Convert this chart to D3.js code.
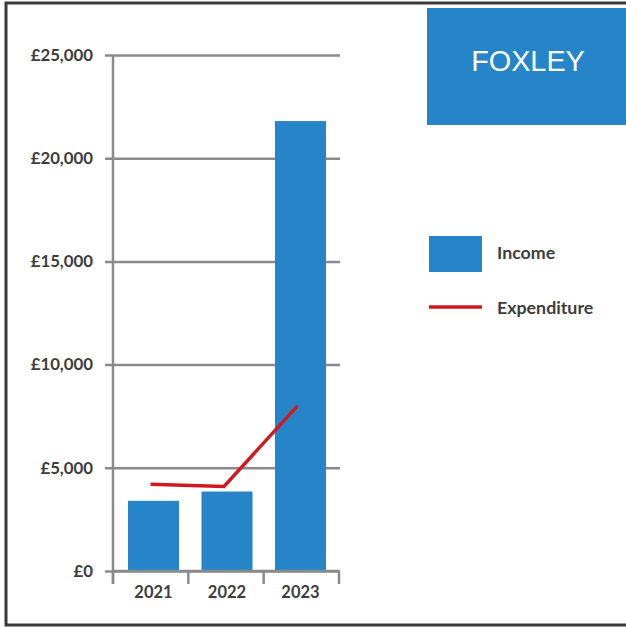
<!DOCTYPE html>
<html>
<head>
<meta charset="utf-8">
<script src="https://cdn.jsdelivr.net/npm/d3@7"></script>
<style>
  body { margin: 0; background: #fff; }
  svg { display: block; }
</style>
</head>
<body>
<svg id="chart"></svg>
<script>
// chart data
const years = ["2021", "2022", "2023"];
const income = [3400, 3850, 21800];
const expenditure = [4200, 4100, 8000];
const yTicks = [0, 5000, 10000, 15000, 20000, 25000];
const title = "FOXLEY";
const seriesNames = ["Income", "Expenditure"];

const width = 626;
const height = 627;
const blue = "#2585c8";
const red = "#d0191f";
const grey = "#8a8a8a";
const labelFont = "Lato, 'Open Sans', sans-serif";

const svg = d3.select("#chart")
    .attr("width", width)
    .attr("height", height);

// outer frame
svg.append("rect")
    .attr("x", 6).attr("y", 3)
    .attr("width", 640).attr("height", 622)
    .attr("fill", "none")
    .attr("stroke", "#3a3a3a")
    .attr("stroke-width", 3);

const x = d3.scaleBand()
    .domain(years)
    .range([116.75, 337.25])
    .paddingInner(0.306)
    .paddingOuter(0.153);

const y = d3.scaleLinear()
    .domain([0, 25000])
    .range([571, 55]);

const fmt = d => "£" + d3.format(",")(d);

// gridlines + y axis
const yAxis = svg.append("g")
    .attr("transform", "translate(113,0)")
    .call(d3.axisLeft(y).tickValues(yTicks).tickFormat(fmt).tickSize(8).tickPadding(12));
yAxis.select(".domain").remove();
yAxis.selectAll(".tick line")
    .attr("x2", 227)
    .attr("x1", -8)
    .attr("stroke", grey)
    .attr("stroke-width", 2.5);
yAxis.selectAll("text")
    .attr("font-family", labelFont)
    .attr("font-weight", "bold")
    .attr("font-size", 16.8)
    .attr("fill", "#3d3d3d");

svg.append("line")
    .attr("x1", 113).attr("x2", 113)
    .attr("y1", y(25000)).attr("y2", 584)
    .attr("stroke", grey).attr("stroke-width", 2.5);

// bars
svg.append("g")
    .attr("fill", blue)
    .selectAll("rect")
    .data(income)
    .enter().append("rect")
    .attr("x", (d, i) => x(years[i]))
    .attr("y", d => y(d))
    .attr("width", x.bandwidth())
    .attr("height", d => y(0) - y(d));

// x axis
const xAxisScale = d3.scalePoint().domain(d3.range(years.length + 1)).range([113, 339]);
svg.append("g")
    .selectAll("line")
    .data(xAxisScale.domain())
    .enter().append("line")
    .attr("x1", d => xAxisScale(d)).attr("x2", d => xAxisScale(d))
    .attr("y1", y(0)).attr("y2", 584)
    .attr("stroke", grey).attr("stroke-width", 2.5);
svg.append("line")
    .attr("x1", 113).attr("x2", 339)
    .attr("y1", y(0)).attr("y2", y(0))
    .attr("stroke", grey).attr("stroke-width", 2.5);
svg.append("g")
    .selectAll("text")
    .data(years)
    .enter().append("text")
    .attr("x", d => x(d) + x.bandwidth() / 2)
    .attr("y", 598)
    .attr("text-anchor", "middle")
    .attr("font-family", labelFont)
    .attr("font-weight", "bold")
    .attr("font-size", 16.5)
    .attr("fill", "#3d3d3d")
    .text(d => d);

// expenditure line
const line = d3.line()
    .x((d, i) => x(years[i]) + x.bandwidth() / 2 - 3)
    .y(d => y(d));
svg.append("path")
    .datum(expenditure)
    .attr("d", line)
    .attr("fill", "none")
    .attr("stroke", red)
    .attr("stroke-width", 3.5);

// title box
svg.append("rect")
    .attr("x", 427).attr("y", 8)
    .attr("width", 199).attr("height", 117)
    .attr("fill", blue);
svg.append("text")
    .attr("x", 528).attr("y", 71)
    .attr("text-anchor", "middle")
    .attr("font-family", "'Liberation Sans', Arial, sans-serif")
    .attr("font-size", 28.8)
    .attr("fill", "#fff")
    .text(title);

// legend
const legend = svg.append("g");
legend.append("rect")
    .attr("x", 429).attr("y", 236)
    .attr("width", 53).attr("height", 36)
    .attr("fill", blue);
legend.append("line")
    .attr("x1", 429).attr("x2", 482)
    .attr("y1", 307).attr("y2", 307)
    .attr("stroke", red).attr("stroke-width", 3.5);
legend.selectAll("text")
    .data(seriesNames)
    .enter().append("text")
    .attr("x", 497)
    .attr("y", (d, i) => 259 + i * 55)
    .attr("font-family", labelFont)
    .attr("font-weight", "bold")
    .attr("font-size", 17.8)
    .attr("fill", "#3d3d3d")
    .text(d => d);
</script>
</body>
</html>
